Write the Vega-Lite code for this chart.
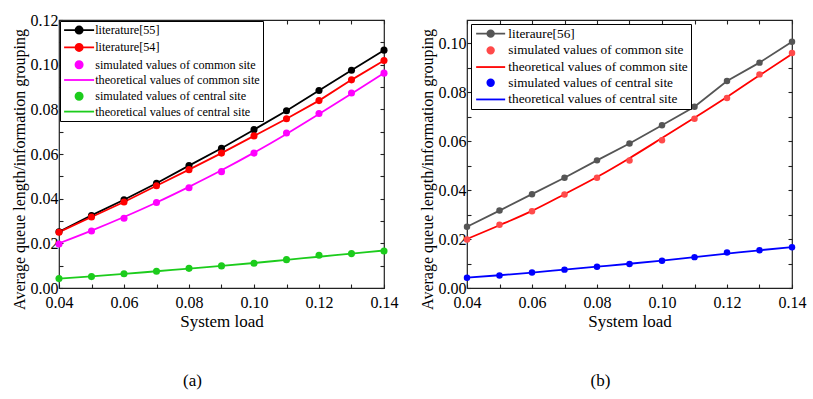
{
  "$schema": "https://vega.github.io/schema/vega-lite/v6.json",
  "background": "white",
  "padding": {"left": 10, "top": 11, "right": 5, "bottom": 5},
  "spacing": 19,
  "config": {
    "font": "Liberation Serif",
    "view": {"stroke": "#222222", "strokeWidth": 1.2},
    "axis": {"grid": false, "domain": false, "tickSize": -4, "tickColor": "#222222", "tickWidth": 1.1, "labelFont": "Liberation Serif", "labelFontSize": 16, "labelColor": "#000000", "titleFont": "Liberation Serif", "titleFontWeight": "normal", "titleColor": "#000000", "labelOverlap": false, "labelFlush": false},
    "title": {"font": "Liberation Serif", "fontWeight": "normal", "fontSize": 17, "color": "#000000"}
  },
  "datasets": {
    "a": [
      {"series": "literature[55]", "kind": "lit", "load": 0.04, "value": 0.0252},
      {"series": "literature[55]", "kind": "lit", "load": 0.05, "value": 0.0325},
      {"series": "literature[55]", "kind": "lit", "load": 0.06, "value": 0.0395},
      {"series": "literature[55]", "kind": "lit", "load": 0.07, "value": 0.0469},
      {"series": "literature[55]", "kind": "lit", "load": 0.08, "value": 0.0548},
      {"series": "literature[55]", "kind": "lit", "load": 0.09, "value": 0.0626},
      {"series": "literature[55]", "kind": "lit", "load": 0.10, "value": 0.0709},
      {"series": "literature[55]", "kind": "lit", "load": 0.11, "value": 0.0794},
      {"series": "literature[55]", "kind": "lit", "load": 0.12, "value": 0.0884},
      {"series": "literature[55]", "kind": "lit", "load": 0.13, "value": 0.0975},
      {"series": "literature[55]", "kind": "lit", "load": 0.14, "value": 0.1065},
      {"series": "literature[54]", "kind": "lit", "load": 0.04, "value": 0.0250},
      {"series": "literature[54]", "kind": "lit", "load": 0.05, "value": 0.0318},
      {"series": "literature[54]", "kind": "lit", "load": 0.06, "value": 0.0385},
      {"series": "literature[54]", "kind": "lit", "load": 0.07, "value": 0.0458},
      {"series": "literature[54]", "kind": "lit", "load": 0.08, "value": 0.0530},
      {"series": "literature[54]", "kind": "lit", "load": 0.09, "value": 0.0604},
      {"series": "literature[54]", "kind": "lit", "load": 0.10, "value": 0.0681},
      {"series": "literature[54]", "kind": "lit", "load": 0.11, "value": 0.0758},
      {"series": "literature[54]", "kind": "lit", "load": 0.12, "value": 0.0839},
      {"series": "literature[54]", "kind": "lit", "load": 0.13, "value": 0.0932},
      {"series": "literature[54]", "kind": "lit", "load": 0.14, "value": 0.1019},
      {"series": "simulated values of common site", "kind": "sim", "load": 0.04, "value": 0.0197},
      {"series": "simulated values of common site", "kind": "sim", "load": 0.05, "value": 0.0255},
      {"series": "simulated values of common site", "kind": "sim", "load": 0.06, "value": 0.0312},
      {"series": "simulated values of common site", "kind": "sim", "load": 0.07, "value": 0.0383},
      {"series": "simulated values of common site", "kind": "sim", "load": 0.08, "value": 0.0449},
      {"series": "simulated values of common site", "kind": "sim", "load": 0.09, "value": 0.0521},
      {"series": "simulated values of common site", "kind": "sim", "load": 0.10, "value": 0.0604},
      {"series": "simulated values of common site", "kind": "sim", "load": 0.11, "value": 0.0694},
      {"series": "simulated values of common site", "kind": "sim", "load": 0.12, "value": 0.0781},
      {"series": "simulated values of common site", "kind": "sim", "load": 0.13, "value": 0.0873},
      {"series": "simulated values of common site", "kind": "sim", "load": 0.14, "value": 0.0962},
      {"series": "theoretical values of common site", "kind": "theo", "load": 0.04, "value": 0.0200},
      {"series": "theoretical values of common site", "kind": "theo", "load": 0.05, "value": 0.0257},
      {"series": "theoretical values of common site", "kind": "theo", "load": 0.06, "value": 0.0318},
      {"series": "theoretical values of common site", "kind": "theo", "load": 0.07, "value": 0.0383},
      {"series": "theoretical values of common site", "kind": "theo", "load": 0.08, "value": 0.0453},
      {"series": "theoretical values of common site", "kind": "theo", "load": 0.09, "value": 0.0527},
      {"series": "theoretical values of common site", "kind": "theo", "load": 0.10, "value": 0.0606},
      {"series": "theoretical values of common site", "kind": "theo", "load": 0.11, "value": 0.0690},
      {"series": "theoretical values of common site", "kind": "theo", "load": 0.12, "value": 0.0779},
      {"series": "theoretical values of common site", "kind": "theo", "load": 0.13, "value": 0.0870},
      {"series": "theoretical values of common site", "kind": "theo", "load": 0.14, "value": 0.0962},
      {"series": "simulated values of central site", "kind": "sim", "load": 0.04, "value": 0.0042},
      {"series": "simulated values of central site", "kind": "sim", "load": 0.05, "value": 0.0051},
      {"series": "simulated values of central site", "kind": "sim", "load": 0.06, "value": 0.0064},
      {"series": "simulated values of central site", "kind": "sim", "load": 0.07, "value": 0.0075},
      {"series": "simulated values of central site", "kind": "sim", "load": 0.08, "value": 0.0088},
      {"series": "simulated values of central site", "kind": "sim", "load": 0.09, "value": 0.0099},
      {"series": "simulated values of central site", "kind": "sim", "load": 0.10, "value": 0.0111},
      {"series": "simulated values of central site", "kind": "sim", "load": 0.11, "value": 0.0127},
      {"series": "simulated values of central site", "kind": "sim", "load": 0.12, "value": 0.0147},
      {"series": "simulated values of central site", "kind": "sim", "load": 0.13, "value": 0.0154},
      {"series": "simulated values of central site", "kind": "sim", "load": 0.14, "value": 0.0166},
      {"series": "theoretical values of central site", "kind": "theo", "load": 0.04, "value": 0.0042},
      {"series": "theoretical values of central site", "kind": "theo", "load": 0.05, "value": 0.0052},
      {"series": "theoretical values of central site", "kind": "theo", "load": 0.06, "value": 0.0063},
      {"series": "theoretical values of central site", "kind": "theo", "load": 0.07, "value": 0.0075},
      {"series": "theoretical values of central site", "kind": "theo", "load": 0.08, "value": 0.0087},
      {"series": "theoretical values of central site", "kind": "theo", "load": 0.09, "value": 0.0099},
      {"series": "theoretical values of central site", "kind": "theo", "load": 0.10, "value": 0.0112},
      {"series": "theoretical values of central site", "kind": "theo", "load": 0.11, "value": 0.0126},
      {"series": "theoretical values of central site", "kind": "theo", "load": 0.12, "value": 0.0140},
      {"series": "theoretical values of central site", "kind": "theo", "load": 0.13, "value": 0.0154},
      {"series": "theoretical values of central site", "kind": "theo", "load": 0.14, "value": 0.0168}
    ],
    "b": [
      {"series": "literaure[56]", "kind": "lit", "load": 0.04, "value": 0.0250},
      {"series": "literaure[56]", "kind": "lit", "load": 0.05, "value": 0.0316},
      {"series": "literaure[56]", "kind": "lit", "load": 0.06, "value": 0.0383},
      {"series": "literaure[56]", "kind": "lit", "load": 0.07, "value": 0.0450},
      {"series": "literaure[56]", "kind": "lit", "load": 0.08, "value": 0.0521},
      {"series": "literaure[56]", "kind": "lit", "load": 0.09, "value": 0.0590},
      {"series": "literaure[56]", "kind": "lit", "load": 0.10, "value": 0.0664},
      {"series": "literaure[56]", "kind": "lit", "load": 0.11, "value": 0.0740},
      {"series": "literaure[56]", "kind": "lit", "load": 0.12, "value": 0.0845},
      {"series": "literaure[56]", "kind": "lit", "load": 0.13, "value": 0.0920},
      {"series": "literaure[56]", "kind": "lit", "load": 0.14, "value": 0.1005},
      {"series": "simulated values of common site", "kind": "sim", "load": 0.04, "value": 0.0198},
      {"series": "simulated values of common site", "kind": "sim", "load": 0.05, "value": 0.0258},
      {"series": "simulated values of common site", "kind": "sim", "load": 0.06, "value": 0.0313},
      {"series": "simulated values of common site", "kind": "sim", "load": 0.07, "value": 0.0382},
      {"series": "simulated values of common site", "kind": "sim", "load": 0.08, "value": 0.0450},
      {"series": "simulated values of common site", "kind": "sim", "load": 0.09, "value": 0.0520},
      {"series": "simulated values of common site", "kind": "sim", "load": 0.10, "value": 0.0603},
      {"series": "simulated values of common site", "kind": "sim", "load": 0.11, "value": 0.0691},
      {"series": "simulated values of common site", "kind": "sim", "load": 0.12, "value": 0.0776},
      {"series": "simulated values of common site", "kind": "sim", "load": 0.13, "value": 0.0872},
      {"series": "simulated values of common site", "kind": "sim", "load": 0.14, "value": 0.0959},
      {"series": "theoretical values of common site", "kind": "theo", "load": 0.04, "value": 0.0200},
      {"series": "theoretical values of common site", "kind": "theo", "load": 0.05, "value": 0.0256},
      {"series": "theoretical values of common site", "kind": "theo", "load": 0.06, "value": 0.0315},
      {"series": "theoretical values of common site", "kind": "theo", "load": 0.07, "value": 0.0383},
      {"series": "theoretical values of common site", "kind": "theo", "load": 0.08, "value": 0.0453},
      {"series": "theoretical values of common site", "kind": "theo", "load": 0.09, "value": 0.0530},
      {"series": "theoretical values of common site", "kind": "theo", "load": 0.10, "value": 0.0612},
      {"series": "theoretical values of common site", "kind": "theo", "load": 0.11, "value": 0.0695},
      {"series": "theoretical values of common site", "kind": "theo", "load": 0.12, "value": 0.0780},
      {"series": "theoretical values of common site", "kind": "theo", "load": 0.13, "value": 0.0868},
      {"series": "theoretical values of common site", "kind": "theo", "load": 0.14, "value": 0.0955},
      {"series": "simulated values of central site", "kind": "sim", "load": 0.04, "value": 0.0042},
      {"series": "simulated values of central site", "kind": "sim", "load": 0.05, "value": 0.0051},
      {"series": "simulated values of central site", "kind": "sim", "load": 0.06, "value": 0.0063},
      {"series": "simulated values of central site", "kind": "sim", "load": 0.07, "value": 0.0075},
      {"series": "simulated values of central site", "kind": "sim", "load": 0.08, "value": 0.0087},
      {"series": "simulated values of central site", "kind": "sim", "load": 0.09, "value": 0.0098},
      {"series": "simulated values of central site", "kind": "sim", "load": 0.10, "value": 0.0111},
      {"series": "simulated values of central site", "kind": "sim", "load": 0.11, "value": 0.0126},
      {"series": "simulated values of central site", "kind": "sim", "load": 0.12, "value": 0.0145},
      {"series": "simulated values of central site", "kind": "sim", "load": 0.13, "value": 0.0154},
      {"series": "simulated values of central site", "kind": "sim", "load": 0.14, "value": 0.0166},
      {"series": "theoretical values of central site", "kind": "theo", "load": 0.04, "value": 0.0042},
      {"series": "theoretical values of central site", "kind": "theo", "load": 0.05, "value": 0.0052},
      {"series": "theoretical values of central site", "kind": "theo", "load": 0.06, "value": 0.0063},
      {"series": "theoretical values of central site", "kind": "theo", "load": 0.07, "value": 0.0075},
      {"series": "theoretical values of central site", "kind": "theo", "load": 0.08, "value": 0.0087},
      {"series": "theoretical values of central site", "kind": "theo", "load": 0.09, "value": 0.0099},
      {"series": "theoretical values of central site", "kind": "theo", "load": 0.10, "value": 0.0112},
      {"series": "theoretical values of central site", "kind": "theo", "load": 0.11, "value": 0.0126},
      {"series": "theoretical values of central site", "kind": "theo", "load": 0.12, "value": 0.0140},
      {"series": "theoretical values of central site", "kind": "theo", "load": 0.13, "value": 0.0154},
      {"series": "theoretical values of central site", "kind": "theo", "load": 0.14, "value": 0.0167}
    ]
  },
  "resolve": {"scale": {"x": "independent", "y": "independent", "color": "independent"}, "legend": {"color": "independent"}},
  "hconcat": [
    {
      "width": 325,
      "height": 268,
      "data": {"name": "a"},
      "title": {"text": "(a)", "orient": "bottom", "offset": 44, "dx": -29},
      "resolve": {"axis": {"x": "independent", "y": "independent"}},
      "encoding": {
        "x": {"field": "load", "type": "quantitative", "scale": {"domain": [0.04, 0.14], "nice": false, "zero": false}, "axis": null},
        "y": {"field": "value", "type": "quantitative", "scale": {"domain": [0, 0.12], "nice": false}, "axis": null},
        "color": {"field": "series", "type": "nominal",
          "scale": {"domain": ["literature[55]", "literature[54]", "simulated values of common site", "theoretical values of common site", "simulated values of central site", "theoretical values of central site"],
                    "range": ["#000000", "#ff0000", "#ff00ff", "#ff00ff", "#1ccc1c", "#1ccc1c"]},
          "legend": {"title": null, "orient": "top-left", "offset": 1, "strokeColor": "#000000", "fillColor": "#ffffff", "padding": 3, "labelFont": "Liberation Serif", "labelFontSize": 12.2, "labelColor": "#000000", "symbolSize": 100, "symbolOffset": 10, "symbolStrokeWidth": 1.8, "rowPadding": 1.3, "labelOffset": 10, "labelLimit": 400,
            "encode": {"symbols": {"update": {
              "shape": {"signal": "indexof(datum.value, 'simulated') == 0 ? 'M-0.72,0A0.72,0.72,0,1,1,0.72,0A0.72,0.72,0,1,1,-0.72,0Z' : indexof(datum.value, 'theoretical') == 0 ? 'M-3,0H3' : 'M-3,0H3M-0.72,0A0.72,0.72,0,1,1,0.72,0A0.72,0.72,0,1,1,-0.72,0Z'"},
              "fill": {"signal": "datum.value == 'literature[55]' ? '#000000' : datum.value == 'literature[54]' ? '#ff0000' : indexof(datum.value, 'common') >= 0 ? '#ff00ff' : '#1ccc1c'"},
              "stroke": {"signal": "datum.value == 'literature[55]' ? '#000000' : datum.value == 'literature[54]' ? '#ff0000' : indexof(datum.value, 'common') >= 0 ? '#ff00ff' : '#1ccc1c'"},
              "strokeWidth": {"value": 1.8},
              "opacity": {"value": 1}
            }}}}}
      },
      "layer": [
        {
          "transform": [{"filter": "datum.kind == 'lit'"}],
          "mark": {"type": "line", "strokeWidth": 1.8},
          "encoding": {
            "x": {"field": "load", "type": "quantitative", "scale": {"domain": [0.04, 0.14], "nice": false, "zero": false},
              "axis": {"orient": "bottom", "values": [0.04, 0.05, 0.06, 0.07, 0.08, 0.09, 0.10, 0.11, 0.12, 0.13, 0.14], "labelExpr": "round(datum.value*100) % 2 == 0 ? format(datum.value, '.2f') : ''", "labelPadding": 10, "title": "System load", "titleFontSize": 17, "titlePadding": 3}},
            "y": {"field": "value", "type": "quantitative", "scale": {"domain": [0, 0.12], "nice": false},
              "axis": {"orient": "left", "values": [0, 0.01, 0.02, 0.03, 0.04, 0.05, 0.06, 0.07, 0.08, 0.09, 0.10, 0.11, 0.12], "labelExpr": "round(datum.value*100) % 2 == 0 ? format(datum.value, '.2f') : ''", "labelPadding": 5, "title": "Average queue length/information grouping", "titleFontSize": 16, "titlePadding": 3, "titleY": 149}}
          }
        },
        {
          "transform": [{"filter": "datum.kind == 'theo'"}],
          "mark": {"type": "line", "strokeWidth": 1.8, "interpolate": "monotone"},
          "encoding": {
            "x": {"field": "load", "type": "quantitative", "scale": {"domain": [0.04, 0.14], "nice": false, "zero": false},
              "axis": {"orient": "top", "values": [0.04, 0.05, 0.06, 0.07, 0.08, 0.09, 0.10, 0.11, 0.12, 0.13, 0.14], "labels": false, "title": null}},
            "y": {"field": "value", "type": "quantitative", "scale": {"domain": [0, 0.12], "nice": false},
              "axis": {"orient": "right", "values": [0, 0.01, 0.02, 0.03, 0.04, 0.05, 0.06, 0.07, 0.08, 0.09, 0.10, 0.11, 0.12], "labels": false, "title": null}}
          }
        },
        {
          "transform": [{"filter": "datum.kind != 'theo'"}],
          "mark": {"type": "circle", "size": 50, "opacity": 1}
        }
      ]
    },
    {
      "width": 325,
      "height": 268,
      "data": {"name": "b"},
      "title": {"text": "(b)", "orient": "bottom", "offset": 44, "dx": -29},
      "resolve": {"axis": {"x": "independent", "y": "independent"}},
      "encoding": {
        "x": {"field": "load", "type": "quantitative", "scale": {"domain": [0.04, 0.14], "nice": false, "zero": false}, "axis": null},
        "y": {"field": "value", "type": "quantitative", "scale": {"domain": [0, 0.1094], "nice": false}, "axis": null},
        "color": {"field": "series", "type": "nominal",
          "scale": {"domain": ["literaure[56]", "simulated values of common site", "theoretical values of common site", "simulated values of central site", "theoretical values of central site"],
                    "range": ["#555555", "#ff4a4a", "#ff0000", "#0000ff", "#0000ff"]},
          "legend": {"title": null, "orient": "top-left", "offset": 4, "strokeColor": "#000000", "fillColor": "#ffffff", "padding": 3, "labelFont": "Liberation Serif", "labelFontSize": 13.3, "labelColor": "#000000", "symbolSize": 100, "symbolOffset": 10, "symbolStrokeWidth": 1.8, "rowPadding": 1.7, "labelOffset": 11, "labelLimit": 400,
            "encode": {"symbols": {"update": {
              "shape": {"signal": "indexof(datum.value, 'simulated') == 0 ? 'M-0.66,0A0.66,0.66,0,1,1,0.66,0A0.66,0.66,0,1,1,-0.66,0Z' : indexof(datum.value, 'theoretical') == 0 ? 'M-2.9,0H2.9' : 'M-2.9,0H2.9M-0.66,0A0.66,0.66,0,1,1,0.66,0A0.66,0.66,0,1,1,-0.66,0Z'"},
              "fill": {"signal": "datum.value == 'literaure[56]' ? '#555555' : datum.value == 'simulated values of common site' ? '#ff4a4a' : datum.value == 'theoretical values of common site' ? '#ff0000' : '#0000ff'"},
              "stroke": {"signal": "datum.value == 'literaure[56]' ? '#555555' : datum.value == 'simulated values of common site' ? '#ff4a4a' : datum.value == 'theoretical values of common site' ? '#ff0000' : '#0000ff'"},
              "strokeWidth": {"value": 1.8},
              "opacity": {"value": 1}
            }}}}}
      },
      "layer": [
        {
          "transform": [{"filter": "datum.kind == 'lit'"}],
          "mark": {"type": "line", "strokeWidth": 1.8},
          "encoding": {
            "x": {"field": "load", "type": "quantitative", "scale": {"domain": [0.04, 0.14], "nice": false, "zero": false},
              "axis": {"orient": "bottom", "values": [0.04, 0.05, 0.06, 0.07, 0.08, 0.09, 0.10, 0.11, 0.12, 0.13, 0.14], "labelExpr": "round(datum.value*100) % 2 == 0 ? format(datum.value, '.2f') : ''", "labelPadding": 10, "title": "System load", "titleFontSize": 17, "titlePadding": 3}},
            "y": {"field": "value", "type": "quantitative", "scale": {"domain": [0, 0.1094], "nice": false},
              "axis": {"orient": "left", "values": [0, 0.01, 0.02, 0.03, 0.04, 0.05, 0.06, 0.07, 0.08, 0.09, 0.10], "labelExpr": "round(datum.value*100) % 2 == 0 ? format(datum.value, '.2f') : ''", "labelPadding": 5, "title": "Average queue length/information grouping", "titleFontSize": 16, "titlePadding": 3, "titleY": 149}}
          }
        },
        {
          "transform": [{"filter": "datum.kind == 'theo'"}],
          "mark": {"type": "line", "strokeWidth": 1.8, "interpolate": "monotone"},
          "encoding": {
            "x": {"field": "load", "type": "quantitative", "scale": {"domain": [0.04, 0.14], "nice": false, "zero": false},
              "axis": {"orient": "top", "values": [0.04, 0.05, 0.06, 0.07, 0.08, 0.09, 0.10, 0.11, 0.12, 0.13, 0.14], "labels": false, "title": null}},
            "y": {"field": "value", "type": "quantitative", "scale": {"domain": [0, 0.1094], "nice": false},
              "axis": {"orient": "right", "values": [0, 0.01, 0.02, 0.03, 0.04, 0.05, 0.06, 0.07, 0.08, 0.09, 0.10], "labels": false, "title": null}}
          }
        },
        {
          "transform": [{"filter": "datum.kind != 'theo'"}],
          "mark": {"type": "circle", "size": 42, "opacity": 1}
        }
      ]
    }
  ]
}
